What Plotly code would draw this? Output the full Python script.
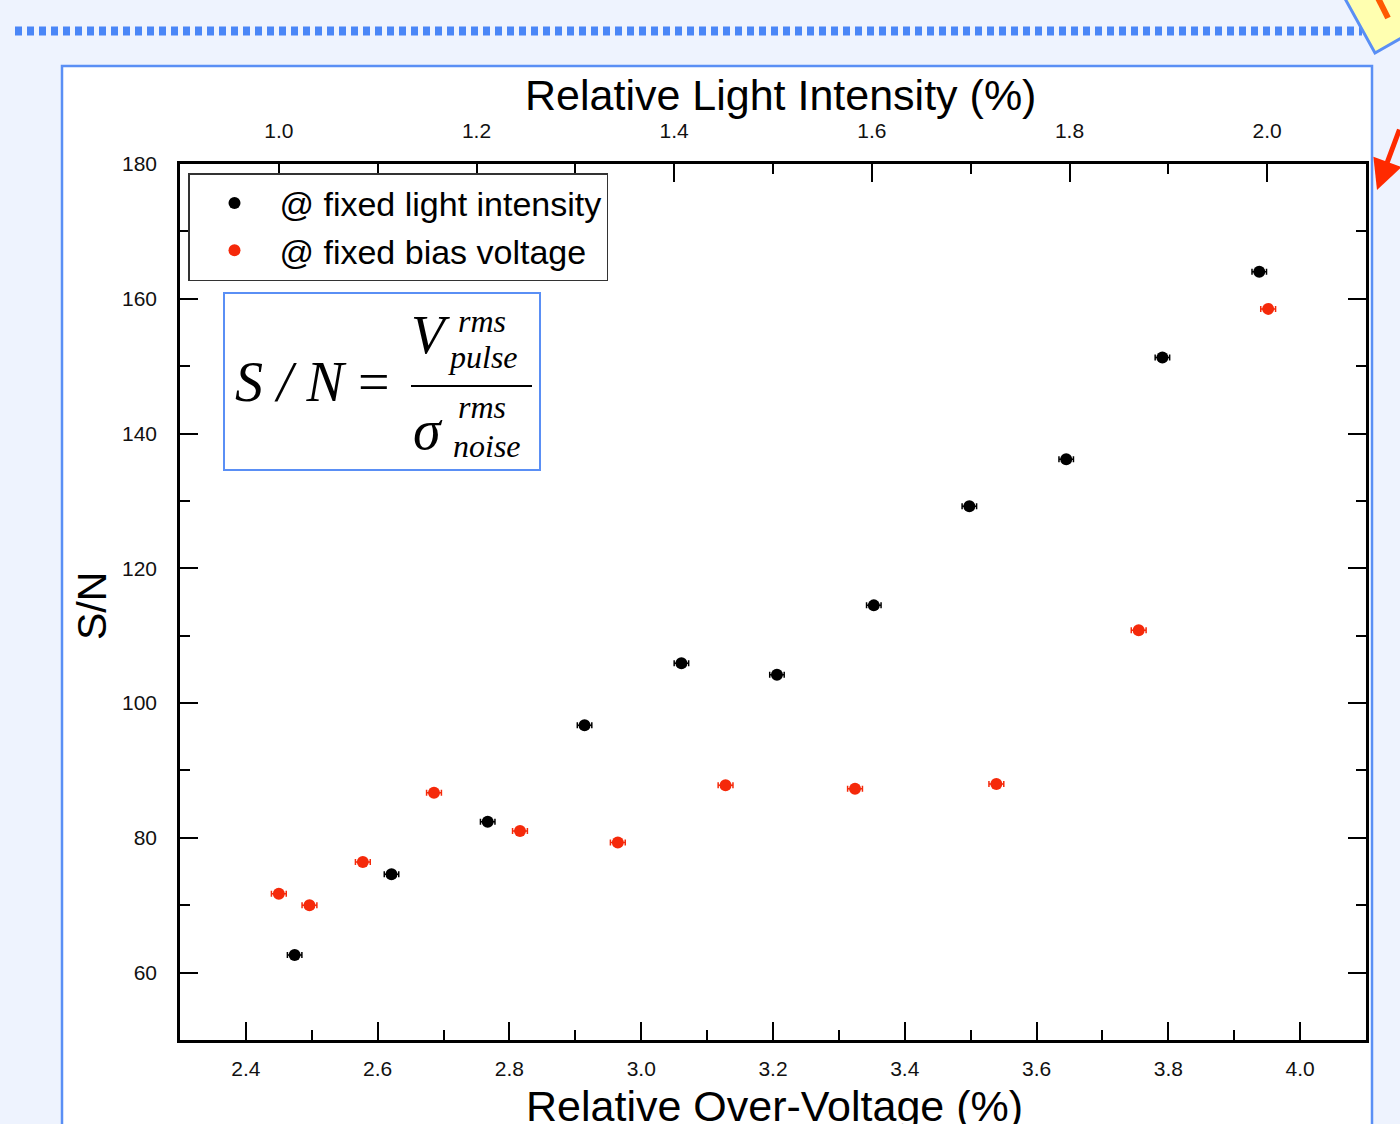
import plotly.graph_objects as go

# ---- data ----
volt_x = [2.474, 2.621, 2.767, 2.914, 3.061, 3.206, 3.353, 3.498, 3.645, 3.791, 3.938]
volt_sn = [62.6, 74.6, 82.4, 96.7, 105.9, 104.2, 114.5, 129.2, 136.2, 151.3, 164.0]
volt_err = [0.011, 0.011, 0.011, 0.011, 0.011, 0.011, 0.011, 0.011, 0.011, 0.011, 0.011]

light_x = [1.000, 1.031, 1.085, 1.157, 1.244, 1.343, 1.452, 1.583, 1.726, 1.870, 2.001]
light_sn = [71.7, 70.0, 76.4, 86.7, 81.0, 79.3, 87.8, 87.3, 88.0, 110.8, 158.5]
light_err = [0.0075, 0.0075, 0.0075, 0.0075, 0.0075, 0.0075, 0.0075, 0.0075, 0.0075, 0.0075, 0.0075]

names = ["@ fixed light intensity", "@ fixed bias voltage"]
x_ticks = [2.4, 2.6, 2.8, 3.0, 3.2, 3.4, 3.6, 3.8, 4.0]
x2_ticks = [1.0, 1.2, 1.4, 1.6, 1.8, 2.0]
y_ticks = [60, 80, 100, 120, 140, 160, 180]

W, H = 1400, 1124
L, R, T, B = 180, 1366, 164, 1040


def px(x):
    return (x - L) / (R - L)


def py(y):
    return (B - y) / (B - T)


BLUE = "#5a8ff5"
RED = "#f5290a"
SANS = "Liberation Sans, Arial, sans-serif"
SERIF = "Liberation Serif, Times New Roman, serif"

fig = go.Figure()
fig.add_trace(go.Scatter(
    x=volt_x, y=volt_sn, mode="markers", name=names[0],
    marker=dict(color="black", size=12),
    error_x=dict(type="data", array=volt_err, color="black", thickness=1.5, width=3),
    xaxis="x", yaxis="y"))
fig.add_trace(go.Scatter(
    x=light_x, y=light_sn, mode="markers", name=names[1],
    marker=dict(color=RED, size=12),
    error_x=dict(type="data", array=light_err, color=RED, thickness=1.5, width=3),
    xaxis="x2", yaxis="y"))

axis_common = dict(
    showline=True, linecolor="black", linewidth=2.5,
    ticks="inside", ticklen=18, tickwidth=2.2, tickcolor="black",
    showgrid=False, zeroline=False,
    tickfont=dict(family=SANS, size=21, color="#111"),
)

fig.update_layout(
    width=W, height=H,
    margin=dict(l=L, r=W - R, t=T, b=H - B),
    paper_bgcolor="#eef3fe", plot_bgcolor="white",
    showlegend=True,
    legend=dict(x=px(188), y=py(173), xanchor="left", yanchor="top",
                bgcolor="white", bordercolor="#333", borderwidth=1.5,
                font=dict(family=SANS, size=34, color="black"),
                itemwidth=80),
    xaxis=dict(range=[2.3, 4.1], tickvals=x_ticks, ticktext=[f"{v:.1f}" for v in x_ticks],
               minor=dict(dtick=0.1, tick0=2.3, ticks="inside", ticklen=10, tickwidth=2, tickcolor="black"),
               ticklabelstandoff=8, **axis_common),
    xaxis2=dict(range=[0.9, 2.1], overlaying="x", side="top", anchor="y",
                tickvals=x2_ticks, ticktext=[f"{v:.1f}" for v in x2_ticks],
                minor=dict(dtick=0.1, tick0=0.9, ticks="inside", ticklen=10, tickwidth=2, tickcolor="black"),
                ticklabelstandoff=15, **axis_common),
    yaxis=dict(range=[50, 180], tickvals=y_ticks, mirror="ticks",
               minor=dict(dtick=10, tick0=50, ticks="inside", ticklen=10, tickwidth=2, tickcolor="black"),
               ticklabelstandoff=16, **axis_common),
)

shapes = []
# white slide panel
shapes.append(dict(type="rect", xref="paper", yref="paper",
                   x0=px(62), x1=px(1372), y0=py(1140), y1=py(66),
                   fillcolor="white", line=dict(color=BLUE, width=2.5), layer="below"))
# dotted separator line
shapes.append(dict(type="line", xref="paper", yref="paper",
                   x0=px(15), x1=px(1362), y0=py(31), y1=py(31),
                   line=dict(color="#4a86f7", width=9, dash="7px,5px"), layer="below"))
# yellow note in the corner
shapes.append(dict(type="path", xref="paper", yref="paper",
                   path=f"M {px(1343)},{py(-5)} L {px(1375)},{py(53)} L {px(1410)},{py(33)} L {px(1410)},{py(-5)} Z",
                   fillcolor="#ffffb0", line=dict(color=BLUE, width=3), layer="above"))
shapes.append(dict(type="line", xref="paper", yref="paper",
                   x0=px(1378), x1=px(1388), y0=py(-2), y1=py(18),
                   line=dict(color="#ff5a00", width=6), layer="above"))
# formula box
shapes.append(dict(type="rect", xref="paper", yref="paper",
                   x0=px(224), x1=px(540), y0=py(470), y1=py(293),
                   fillcolor="white", line=dict(color=BLUE, width=2), layer="above"))
# fraction bar
shapes.append(dict(type="line", xref="paper", yref="paper",
                   x0=px(411), x1=px(532), y0=py(386), y1=py(386),
                   line=dict(color="black", width=2), layer="above"))
fig.update_layout(shapes=shapes)

ann = []


def add_text(text, x, y, size, family=SANS, xanchor="center", angle=0, color="black"):
    ann.append(dict(text=text, x=px(x), y=py(y), xref="paper", yref="paper",
                    xanchor=xanchor, yanchor="middle", showarrow=False, textangle=angle,
                    font=dict(family=family, size=size, color=color)))


add_text("Relative Light Intensity (%)", 780, 95, 43)
add_text("Relative Over-Voltage (%)", 774, 1106, 43)
add_text("S/N", 92, 606, 41, angle=-90)

# formula
add_text("<i>S / N</i> =", 233, 382, 56, family=SERIF, xanchor="left")
add_text("<i>V</i>", 409, 334, 55, family=SERIF, xanchor="left")
add_text("<i>rms</i>", 456, 321, 32, family=SERIF, xanchor="left")
add_text("<i>pulse</i>", 446, 357, 32, family=SERIF, xanchor="left")
add_text("<i>σ</i>", 411, 430, 56, family=SERIF, xanchor="left")
add_text("<i>rms</i>", 456, 407, 32, family=SERIF, xanchor="left")
add_text("<i>noise</i>", 451, 446, 32, family=SERIF, xanchor="left")

# red arrow
ann.append(dict(x=px(1377), y=py(190), xref="paper", yref="paper", text="",
                showarrow=True, ax=35, ay=-62, arrowcolor="#ff2a00",
                arrowwidth=5, arrowhead=2, arrowsize=1.2))

fig.update_layout(annotations=ann)

fig.write_html("out.html")
